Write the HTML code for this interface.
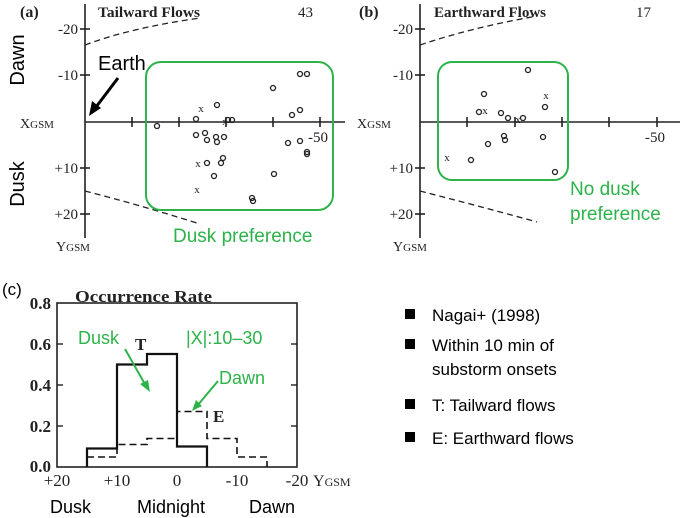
<!DOCTYPE html>
<html><head><meta charset="utf-8"><style>
html,body{margin:0;padding:0;background:#fff;}
svg{display:block;}
.s{font-family:"Liberation Serif",serif;fill:#222;}
.a{font-family:"Liberation Sans",sans-serif;}
</style></head><body>
<svg width="685" height="518" viewBox="0 0 685 518" xmlns="http://www.w3.org/2000/svg">
<!-- Panel a -->
<g stroke="#222" stroke-width="1.6" fill="none">
<line x1="85" y1="4" x2="85" y2="238"/>
<line x1="85" y1="122" x2="345" y2="122"/>
<line x1="80" y1="29" x2="90" y2="29"/><line x1="80" y1="75" x2="90" y2="75"/>
<line x1="80" y1="168" x2="90" y2="168"/><line x1="80" y1="214" x2="90" y2="214"/>
<line x1="132" y1="117" x2="132" y2="127"/><line x1="179" y1="117" x2="179" y2="127"/>
<line x1="226" y1="117" x2="226" y2="127"/><line x1="273" y1="117" x2="273" y2="127"/>
<line x1="320" y1="117" x2="320" y2="127"/>
<path d="M85 45 Q130 28 200 18" stroke-dasharray="6,4" stroke-width="1.3"/>
<path d="M85 191 Q140 205 200 224" stroke-dasharray="6,4" stroke-width="1.3"/>
</g>
<text class="s" x="20" y="17" font-size="16" font-weight="bold">(a)</text>
<text class="s" x="98" y="17" font-size="15" font-weight="bold" textLength="102" lengthAdjust="spacingAndGlyphs">Tailward Flows</text>
<text class="s" x="298" y="17" font-size="15">43</text>
<g class="s" font-size="15" text-anchor="end">
<text x="78" y="34">-20</text><text x="78" y="80">-10</text>
<text x="78" y="173">+10</text><text x="78" y="219">+20</text>
</g>
<text class="s" x="20" y="128" font-size="14">X<tspan font-size="11">GSM</tspan></text>
<text class="s" x="56" y="251" font-size="14">Y<tspan font-size="11">GSM</tspan></text>
<text class="s" x="308" y="142" font-size="15">-50</text>
<text class="a" transform="translate(24,60) rotate(-90)" font-size="20" text-anchor="middle" fill="#000">Dawn</text>
<text class="a" transform="translate(24,184) rotate(-90)" font-size="20" text-anchor="middle" fill="#000">Dusk</text>
<text class="a" x="98" y="70" font-size="20" fill="#000">Earth</text>
<line x1="118" y1="78" x2="93" y2="111" stroke="#000" stroke-width="3"/>
<path d="M89 116 L92 101 L101 108 Z" fill="#000"/>
<rect x="146" y="62" width="187" height="148" rx="15" fill="none" stroke="#2db34a" stroke-width="2"/>
<text class="a" x="173" y="242" font-size="19" fill="#2db34a">Dusk preference</text>
<g stroke="#222" stroke-width="1.3" fill="none">
<circle cx="157" cy="126" r="2.5"/><circle cx="196" cy="119" r="2.5"/><circle cx="217" cy="105" r="2.5"/>
<circle cx="196" cy="135" r="2.5"/><circle cx="205" cy="133" r="2.5"/><circle cx="207" cy="140" r="2.5"/>
<circle cx="216" cy="137" r="2.5"/><circle cx="217" cy="142" r="2.5"/><circle cx="224" cy="137" r="2.5"/>
<circle cx="207" cy="163" r="2.5"/><circle cx="221" cy="163" r="2.5"/><circle cx="223" cy="158" r="2.5"/>
<circle cx="214" cy="176" r="2.5"/><circle cx="228" cy="120" r="2.5"/><circle cx="232" cy="120" r="2.5"/>
<circle cx="252" cy="198" r="2.5"/><circle cx="253" cy="201" r="2.5"/><circle cx="273" cy="88" r="2.5"/>
<circle cx="274" cy="174" r="2.5"/><circle cx="288" cy="143" r="2.5"/><circle cx="292" cy="115" r="2.5"/>
<circle cx="300" cy="110" r="2.5"/><circle cx="300" cy="141" r="2.5"/><circle cx="300" cy="74" r="2.5"/>
<circle cx="307" cy="74" r="2.5"/><circle cx="307" cy="152" r="2.5"/><circle cx="307" cy="154" r="2.5"/>
</g>
<g class="s" font-size="11" text-anchor="middle">
<text x="201" y="112">x</text><text x="198" y="167">x</text><text x="197" y="193">x</text><text x="225" y="125">x</text>
</g>
<!-- Panel b -->
<g stroke="#222" stroke-width="1.6" fill="none">
<line x1="420" y1="4" x2="420" y2="238"/>
<line x1="420" y1="122" x2="680" y2="122"/>
<line x1="415" y1="29" x2="425" y2="29"/><line x1="415" y1="75" x2="425" y2="75"/>
<line x1="415" y1="168" x2="425" y2="168"/><line x1="415" y1="214" x2="425" y2="214"/>
<line x1="467" y1="117" x2="467" y2="127"/><line x1="515" y1="117" x2="515" y2="127"/>
<line x1="562" y1="117" x2="562" y2="127"/><line x1="609" y1="117" x2="609" y2="127"/>
<line x1="657" y1="117" x2="657" y2="127"/>
<path d="M420 45 Q470 28 537 16" stroke-dasharray="6,4" stroke-width="1.3"/>
<path d="M420 191 Q475 205 537 222" stroke-dasharray="6,4" stroke-width="1.3"/>
</g>
<text class="s" x="359" y="17" font-size="16" font-weight="bold">(b)</text>
<text class="s" x="434" y="17" font-size="15" font-weight="bold" textLength="112" lengthAdjust="spacingAndGlyphs">Earthward Flows</text>
<text class="s" x="636" y="17" font-size="15">17</text>
<g class="s" font-size="15" text-anchor="end">
<text x="413" y="34">-20</text><text x="413" y="80">-10</text>
<text x="413" y="173">+10</text><text x="413" y="219">+20</text>
</g>
<text class="s" x="357" y="128" font-size="14">X<tspan font-size="11">GSM</tspan></text>
<text class="s" x="393" y="251" font-size="14">Y<tspan font-size="11">GSM</tspan></text>
<text class="s" x="645" y="142" font-size="15">-50</text>
<rect x="438" y="62" width="130" height="118" rx="14" fill="none" stroke="#2db34a" stroke-width="2"/>
<text class="a" x="570" y="195" font-size="19" fill="#2db34a">No dusk</text>
<text class="a" x="570" y="220" font-size="19" fill="#2db34a">preference</text>
<g stroke="#222" stroke-width="1.3" fill="none">
<circle cx="528" cy="70" r="2.5"/><circle cx="484" cy="94" r="2.5"/><circle cx="479" cy="112" r="2.5"/>
<circle cx="501" cy="113" r="2.5"/><circle cx="508" cy="118" r="2.5"/><circle cx="523" cy="118" r="2.5"/>
<circle cx="545" cy="107" r="2.5"/><circle cx="504" cy="136" r="2.5"/><circle cx="505" cy="140" r="2.5"/>
<circle cx="488" cy="144" r="2.5"/><circle cx="543" cy="137" r="2.5"/><circle cx="471" cy="160" r="2.5"/>
<circle cx="555" cy="172" r="2.5"/>
</g>
<g class="s" font-size="11" text-anchor="middle">
<text x="485" y="114">x</text><text x="546" y="99">x</text><text x="447" y="161">x</text><text x="518" y="123">x</text>
</g>
<!-- Panel c -->
<text class="a" x="2" y="295" font-size="17" fill="#000">(c)</text>
<text class="s" x="75" y="302" font-size="17" font-weight="bold" textLength="137" lengthAdjust="spacingAndGlyphs">Occurrence Rate</text>
<rect x="57" y="303" width="240" height="164" fill="none" stroke="#222" stroke-width="1.6"/>
<g stroke="#222" stroke-width="1.4">
<line x1="57" y1="344" x2="63" y2="344"/><line x1="57" y1="385" x2="63" y2="385"/><line x1="57" y1="426" x2="63" y2="426"/>
<line x1="291" y1="344" x2="297" y2="344"/><line x1="291" y1="385" x2="297" y2="385"/><line x1="291" y1="426" x2="297" y2="426"/>
</g>
<g class="s" font-size="17" font-weight="bold" text-anchor="end">
<text x="51" y="309">0.8</text><text x="51" y="350">0.6</text><text x="51" y="391">0.4</text>
<text x="51" y="432">0.2</text><text x="51" y="472">0.0</text>
</g>
<g class="s" font-size="17" text-anchor="middle">
<text x="57" y="486">+20</text><text x="117" y="486">+10</text><text x="177" y="486">0</text>
<text x="237" y="486">-10</text><text x="297" y="486">-20</text>
</g>
<text class="s" x="313" y="486" font-size="16">Y<tspan font-size="12">GSM</tspan></text>
<path d="M87 467 V448.5 H117 V364.5 H147 V354 H177 V446.5 H207 V467" fill="none" stroke="#111" stroke-width="2.2"/>
<path d="M87 457 H117 V444.5 H147 V438.5 H177 V411.5 H207 V438.5 H237 V457 H267 V467" fill="none" stroke="#111" stroke-width="1.6" stroke-dasharray="7,4"/>
<text class="s" x="135" y="350" font-size="17" font-weight="bold">T</text>
<text class="s" x="213" y="422" font-size="17" font-weight="bold">E</text>
<text class="a" x="78" y="344" font-size="18" fill="#2db34a">Dusk</text>
<text class="a" x="186" y="344" font-size="18" fill="#2db34a">|X|:10–30</text>
<text class="a" x="219" y="384" font-size="18" fill="#2db34a">Dawn</text>
<line x1="125" y1="349" x2="146" y2="386" stroke="#2db34a" stroke-width="2"/>
<path d="M150 392 L140 384 L148 380 Z" fill="#2db34a"/>
<line x1="218" y1="381" x2="197" y2="406" stroke="#2db34a" stroke-width="2"/>
<path d="M192 411 L196 400 L202 406 Z" fill="#2db34a"/>
<g class="a" font-size="18" fill="#000">
<text x="50" y="513">Dusk</text><text x="137" y="513">Midnight</text><text x="249" y="513">Dawn</text>
</g>
<!-- Legend -->
<g fill="#000"><rect x="405" y="309" width="10" height="10"/><rect x="405" y="339" width="10" height="10"/>
<rect x="405" y="399" width="10" height="10"/><rect x="405" y="432" width="10" height="10"/></g>
<g class="a" font-size="17" fill="#000">
<text x="432" y="321">Nagai+ (1998)</text>
<text x="432" y="351">Within 10 min of</text>
<text x="432" y="375">substorm onsets</text>
<text x="432" y="411">T: Tailward flows</text>
<text x="432" y="444">E: Earthward flows</text>
</g>
</svg>
</body></html>
